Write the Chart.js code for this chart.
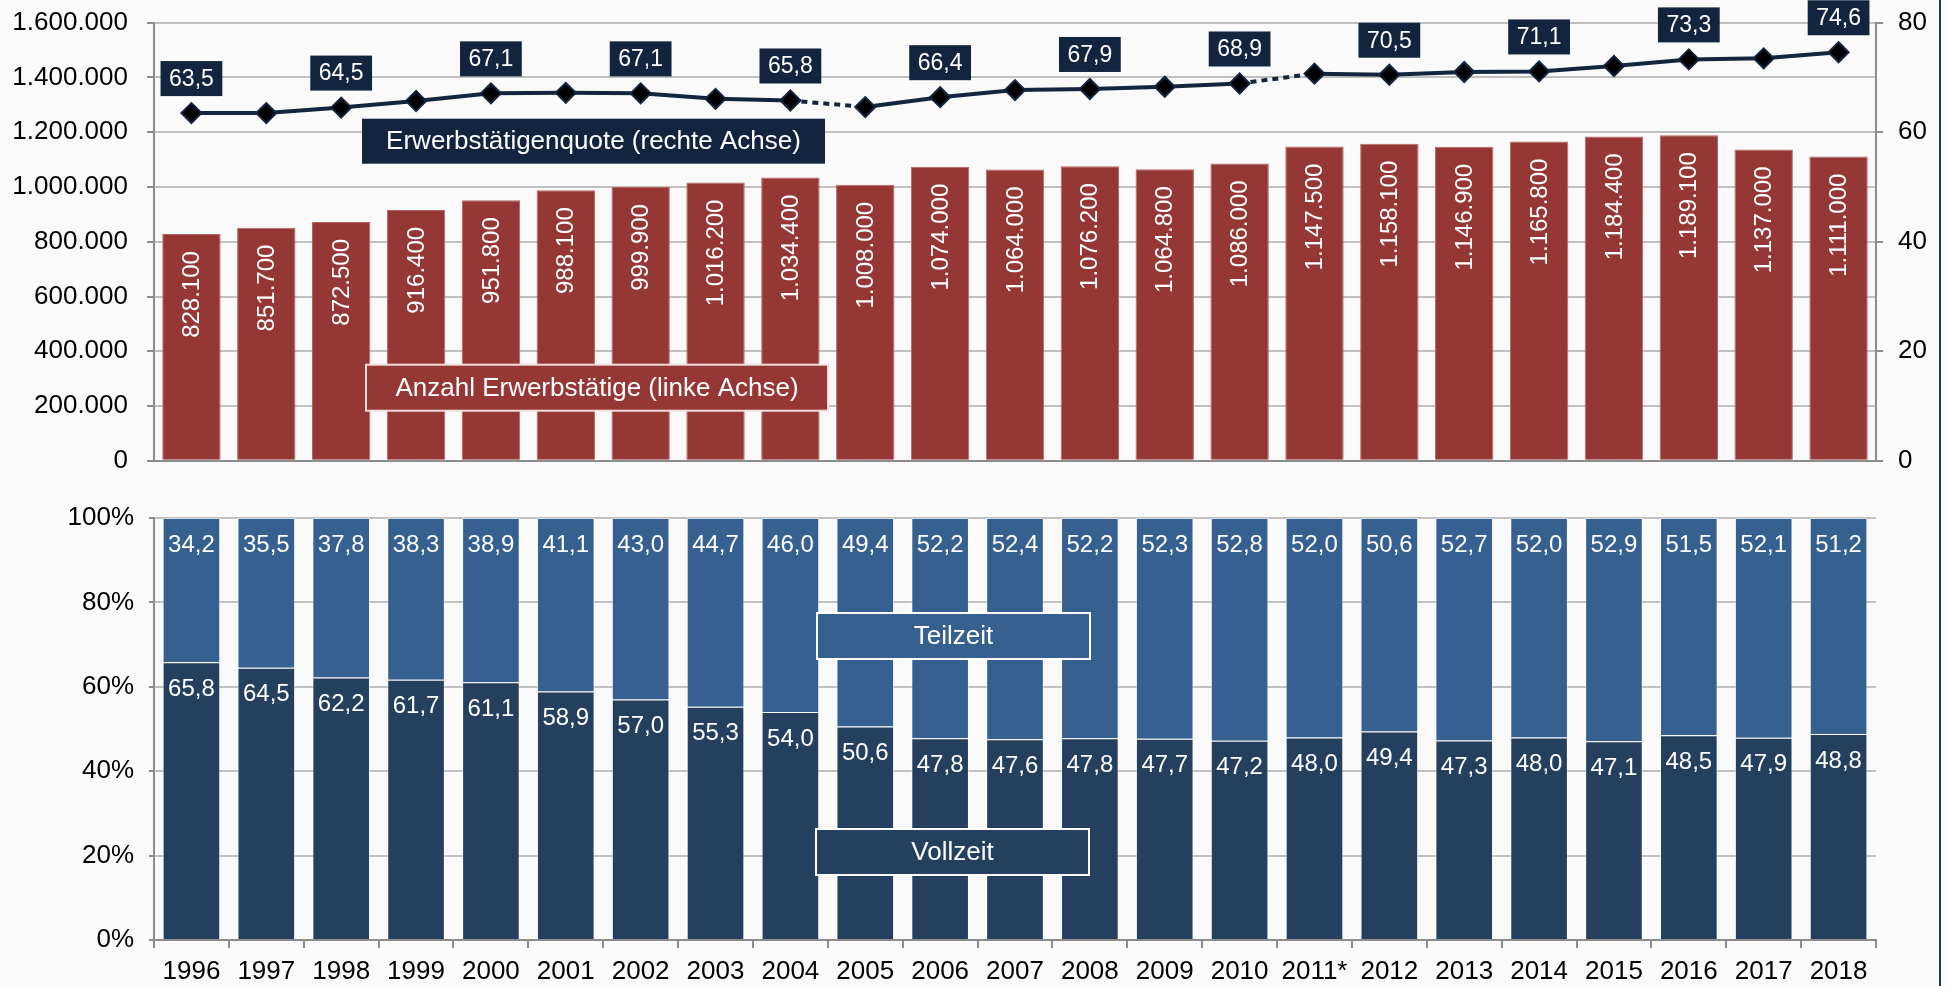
<!DOCTYPE html>
<html lang="de">
<head>
<meta charset="utf-8">
<title>Erwerbstätige</title>
<script src="https://cdn.jsdelivr.net/npm/chart.js@4.4.1/dist/chart.umd.min.js"></script>
<style>
  html, body { margin: 0; padding: 0; background: #fafafa; }
  #wrap { position: relative; width: 1949px; height: 986px; overflow: hidden; }
  #oben { position: absolute; left: 0; top: 0; }
  #unten { position: absolute; left: 0; top: 470px; }
  #rahmen { position: absolute; left: 1939px; top: 0; width: 2px; height: 986px; background: #1f3a60; }
</style>
</head>
<body>
<div id="wrap">
  <canvas id="oben" width="1949" height="480"></canvas>
  <canvas id="unten" width="1949" height="516"></canvas>
  <div id="rahmen"></div>
</div>
<script>
// Jahre
var years = ['1996', '1997', '1998', '1999', '2000', '2001', '2002', '2003', '2004', '2005', '2006', '2007',
    '2008', '2009', '2010', '2011*', '2012', '2013', '2014', '2015', '2016', '2017', '2018'];

// Anzahl Erwerbstätige (linke Achse)
var erwerbstaetige = [828100, 851700, 872500, 916400, 951800, 988100, 999900, 1016200, 1034400, 1008000, 1074000, 1064000,
    1076200, 1064800, 1086000, 1147500, 1158100, 1146900, 1165800, 1184400, 1189100, 1137000, 1111000];

// Erwerbstätigenquote in % (rechte Achse)
var quote = [63.5, 63.5, 64.5, 65.7, 67.1, 67.2, 67.1, 66.1, 65.8, 64.6, 66.4, 67.7,
    67.9, 68.3, 68.9, 70.7, 70.5, 71.0, 71.1, 72.1, 73.3, 73.5, 74.6];
// nur diese Jahre bekommen ein Wertefeld
var quoteBeschriftet = ['1996', '1998', '2000', '2002', '2004', '2006', '2008', '2010', '2012', '2014', '2016', '2018'];
// ab diesen Jahren gestrichelt (Bruch in der Reihe)
var gestricheltAb = ['2004', '2010'];

// Anteile Vollzeit / Teilzeit in %
var vollzeit = [65.8, 64.5, 62.2, 61.7, 61.1, 58.9, 57.0, 55.3, 54.0, 50.6, 47.8, 47.6,
    47.8, 47.7, 47.2, 48.0, 49.4, 47.3, 48.0, 47.1, 48.5, 47.9, 48.8];
var teilzeit = [34.2, 35.5, 37.8, 38.3, 38.9, 41.1, 43.0, 44.7, 46.0, 49.4, 52.2, 52.4,
    52.2, 52.3, 52.8, 52.0, 50.6, 52.7, 52.0, 52.9, 51.5, 52.1, 51.2];

// Achsen
var linksMax = 1600000, linksSchritt = 200000;
var rechtsMax = 80, rechtsSchritt = 20;
var prozentMax = 100, prozentSchritt = 20;

var schrift = "'Liberation Sans', Arial, sans-serif";
Chart.defaults.font.family = schrift;
Chart.defaults.font.size = 26;
Chart.defaults.color = '#000';

function tausender(v) {
    return String(Math.round(v)).replace(/\B(?=(\d{3})+(?!\d))/g, '.');
}
function komma(v) {
    return v.toFixed(1).replace('.', ',');
}

function kasten(ctx, text, x, y, w, h, fill, stroke, size) {
    ctx.save();
    ctx.fillStyle = fill;
    ctx.fillRect(x, y, w, h);
    if (stroke) {
        ctx.strokeStyle = stroke;
        ctx.lineWidth = 2;
        ctx.strokeRect(x, y, w, h);
    }
    ctx.fillStyle = '#fff';
    ctx.font = size + 'px ' + schrift;
    ctx.textAlign = 'center';
    ctx.textBaseline = 'middle';
    ctx.fillText(text, x + w / 2, y + h / 2 + 1);
    ctx.restore();
}

var grau = '#c0c0c0', achse = '#8c8c8c';
// flache Zeilenhöhe, damit die Achsenbeschriftung den Plotbereich nicht verschiebt
var flach = { size: 26, lineHeight: 0.01 };

// ---------- oberes Diagramm ----------
var obenLabels = {
    id: 'obenLabels',
    afterDatasetsDraw: function(chart) {
        var ctx = chart.ctx;
        // Balkenwerte, gedreht
        var bars = chart.getDatasetMeta(1);
        ctx.save();
        ctx.fillStyle = '#fff';
        ctx.font = '24px ' + schrift;
        bars.data.forEach(function(el, i) {
            ctx.save();
            ctx.translate(el.x, el.y + 17);
            ctx.rotate(-Math.PI / 2);
            ctx.textAlign = 'right';
            ctx.textBaseline = 'middle';
            ctx.fillText(tausender(erwerbstaetige[i]), 0, 1);
            ctx.restore();
        });
        ctx.restore();

        // Quote-Beschriftungen
        var linie = chart.getDatasetMeta(0);
        ctx.save();
        ctx.font = '23px ' + schrift;
        linie.data.forEach(function(el, i) {
            if (quoteBeschriftet.indexOf(years[i]) < 0) return;
            var t = komma(quote[i]);
            var w = ctx.measureText(t).width + 17;
            var h = 35;
            kasten(ctx, t, el.x - w / 2, el.y - 17 - h, w, h, '#13243f', null, 23);
        });
        ctx.restore();
    },
    afterDraw: function(chart) {
        var a = chart.chartArea, ctx = chart.ctx;
        kasten(ctx, 'Erwerbstätigenquote (rechte Achse)', a.left + 208, a.top + 96, 463, 45, '#13243f', null, 26);
        kasten(ctx, 'Anzahl Erwerbstätige (linke Achse)', a.left + 212, a.top + 342, 462, 46, '#953735', '#f3dede', 26);
    }
};

new Chart(document.getElementById('oben'), {
    type: 'bar',
    data: {
        labels: years,
        datasets: [{
            type: 'line',
            label: 'Erwerbstätigenquote (rechte Achse)',
            data: quote,
            yAxisID: 'y2',
            order: 0,
            borderColor: '#14253f',
            borderWidth: 4,
            pointStyle: 'rectRot',
            pointRadius: 10,
            pointBackgroundColor: '#000',
            pointBorderColor: '#14253f',
            pointBorderWidth: 2,
            segment: {
                borderDash: function(c) {
                    return gestricheltAb.indexOf(years[c.p0DataIndex]) >= 0 ? [6, 5] : undefined;
                }
            }
        }, {
            label: 'Anzahl Erwerbstätige (linke Achse)',
            data: erwerbstaetige,
            yAxisID: 'y',
            order: 1,
            backgroundColor: '#953735',
            borderColor: '#b86664',
            borderWidth: 1,
            barPercentage: 0.78,
            categoryPercentage: 1
        }]
    },
    options: {
        responsive: false,
        animation: false,
        layout: { padding: { top: 22.7, bottom: 19, left: 0, right: 0 } },
        plugins: { legend: { display: false }, tooltip: { enabled: false } },
        scales: {
            x: {
                grid: { display: true, drawOnChartArea: false, drawTicks: false },
                border: { color: achse, width: 2 },
                ticks: { display: false },
                afterFit: function(s) { s.height = 0; }
            },
            y: {
                position: 'left',
                min: 0,
                max: linksMax,
                ticks: { stepSize: linksSchritt, padding: 19, font: flach, callback: function(v) { return tausender(v); } },
                grid: { color: grau, lineWidth: 2, tickLength: 7, tickColor: achse },
                border: { color: achse, width: 2 },
                afterFit: function(s) { s.width = 154; }
            },
            y2: {
                position: 'right',
                min: 0,
                max: rechtsMax,
                ticks: { stepSize: rechtsSchritt, padding: 15, font: flach },
                grid: { drawOnChartArea: false, tickLength: 7, color: achse, lineWidth: 2 },
                border: { color: achse, width: 2 },
                afterFit: function(s) { s.width = 73; }
            }
        }
    },
    plugins: [obenLabels]
});

// ---------- unteres Diagramm ----------
var untenLabels = {
    id: 'untenLabels',
    afterDatasetsDraw: function(chart) {
        var ctx = chart.ctx;
        ctx.save();
        ctx.fillStyle = '#fff';
        ctx.font = '24px ' + schrift;
        ctx.textAlign = 'center';
        ctx.textBaseline = 'middle';
        [vollzeit, teilzeit].forEach(function(werte, d) {
            chart.getDatasetMeta(d).data.forEach(function(el, i) {
                ctx.fillText(komma(werte[i]), el.x, el.y + 27);
            });
        });
        ctx.restore();
    },
    afterDraw: function(chart) {
        var a = chart.chartArea, ctx = chart.ctx;
        kasten(ctx, 'Teilzeit', a.left + 663, a.top + 95, 273, 46, '#36608f', '#fff', 26);
        kasten(ctx, 'Vollzeit', a.left + 662, a.top + 311, 273, 46, '#25405f', '#fff', 26);
    }
};

new Chart(document.getElementById('unten'), {
    type: 'bar',
    data: {
        labels: years,
        datasets: [{
            label: 'Vollzeit',
            data: vollzeit,
            backgroundColor: '#25405f',
            borderColor: 'rgba(255,255,255,0.45)',
            borderWidth: 1,
            barPercentage: 0.77,
            categoryPercentage: 1
        }, {
            label: 'Teilzeit',
            data: teilzeit,
            backgroundColor: '#36608f',
            borderColor: 'rgba(255,255,255,0.45)',
            borderWidth: 1,
            barPercentage: 0.77,
            categoryPercentage: 1
        }]
    },
    options: {
        responsive: false,
        animation: false,
        layout: { padding: { top: 48, bottom: 0, left: 0, right: 73 } },
        plugins: { legend: { display: false }, tooltip: { enabled: false } },
        scales: {
            x: {
                stacked: true,
                grid: { display: true, drawOnChartArea: false, drawTicks: true, tickLength: 8, color: achse, lineWidth: 2 },
                border: { color: achse, width: 2 },
                ticks: { padding: 8, maxRotation: 0, autoSkip: false },
                afterFit: function(s) { s.height = 46; }
            },
            y: {
                stacked: true,
                min: 0,
                max: prozentMax,
                ticks: { stepSize: prozentSchritt, padding: 15, callback: function(v) { return v + '%'; } },
                grid: { color: grau, lineWidth: 2, tickLength: 5, tickColor: achse },
                border: { color: achse, width: 2 },
                afterFit: function(s) { s.width = 154; }
            }
        }
    },
    plugins: [untenLabels]
});
</script>
</body>
</html>
